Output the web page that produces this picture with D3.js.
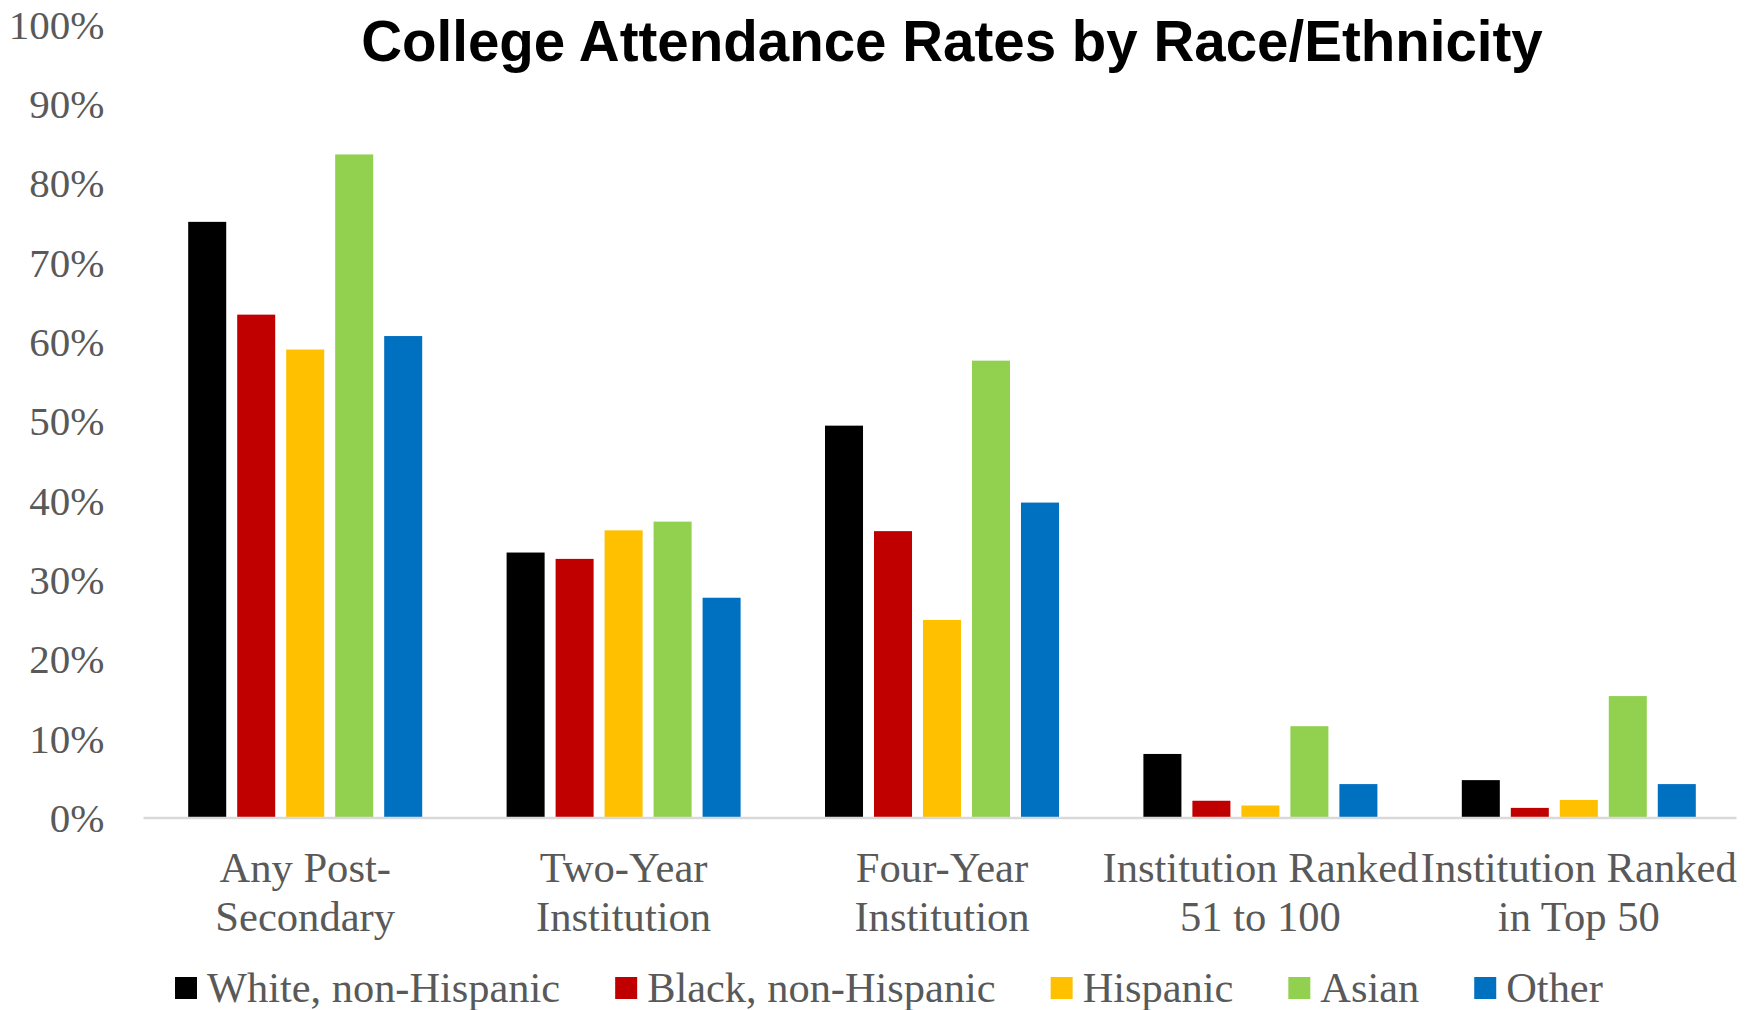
<!DOCTYPE html>
<html>
<head>
<meta charset="utf-8">
<script src="https://cdn.jsdelivr.net/npm/d3@7"></script>
<style>
  html, body { margin: 0; padding: 0; background: #fff; }
  svg { display: block; }
</style>
</head>
<body>
<svg id="chart" width="1758" height="1010"></svg>
<script>
const title = "College Attendance Rates by Race/Ethnicity";
const categories = [
  ["Any Post-", "Secondary"],
  ["Two-Year", "Institution"],
  ["Four-Year", "Institution"],
  ["Institution Ranked", "51 to 100"],
  ["Institution Ranked", "in Top 50"]
];
const seriesNames = ["White, non-Hispanic", "Black, non-Hispanic", "Hispanic", "Asian", "Other"];
const seriesColors = ["#000000", "#C00000", "#FFC000", "#92D050", "#0070C0"];
const white    = [0.751, 0.334, 0.494, 0.080, 0.047];
const black    = [0.634, 0.326, 0.361, 0.021, 0.012];
const hispanic = [0.590, 0.362, 0.249, 0.015, 0.022];
const asian    = [0.836, 0.373, 0.576, 0.115, 0.153];
const other    = [0.607, 0.277, 0.397, 0.042, 0.042];
const seriesValues = [white, black, hispanic, asian, other];
const yTicks = [0, 0.1, 0.2, 0.3, 0.4, 0.5, 0.6, 0.7, 0.8, 0.9, 1.0];

const svg = d3.select("#chart");
const plot = { left: 143.5, right: 1736.5, top: 24.4, bottom: 817.4 };
const serif = "'Liberation Serif', 'Times New Roman', serif";
const textGray = "#595959";

const x0 = d3.scaleBand().domain(d3.range(categories.length)).range([plot.left + 2.5, plot.right + 1.5]).paddingInner(0).paddingOuter(0);
const groupW = 234;
const x1 = d3.scaleBand().domain(d3.range(seriesNames.length)).range([0, groupW]).paddingInner(0.224).paddingOuter(0);
const y = d3.scaleLinear().domain([0, 1]).range([plot.bottom, plot.top]);

// title
svg.append("text")
  .attr("x", 952).attr("y", 61)
  .attr("text-anchor", "middle")
  .attr("font-family", "'Liberation Sans', Arial, sans-serif")
  .attr("font-weight", "bold")
  .attr("font-size", 56.5)
  .attr("fill", "#000")
  .text(title);

// y axis (labels only)
const yAxis = d3.axisLeft(y).tickValues(yTicks).tickFormat(d3.format(".0%")).tickSize(0).tickPadding(0);
const yg = svg.append("g").attr("transform", `translate(104.5,0)`).call(yAxis);
yg.select(".domain").remove();
yg.selectAll("text")
  .attr("font-family", serif).attr("font-size", 41).attr("fill", textGray).attr("dy", "0.34em");

// bars
const groups = svg.append("g").selectAll("g").data(categories).join("g")
  .attr("transform", (d, i) => `translate(${x0(i) + (x0.bandwidth() - groupW) / 2},0)`);
groups.selectAll("rect")
  .data((d, i) => seriesValues.map((s, j) => ({ j, v: s[i] })))
  .join("rect")
  .attr("x", d => x1(d.j))
  .attr("width", x1.bandwidth())
  .attr("y", d => y(d.v))
  .attr("height", d => y(0) - y(d.v))
  .attr("fill", d => seriesColors[d.j]);

// baseline
svg.append("line")
  .attr("x1", plot.left).attr("x2", plot.right)
  .attr("y1", y(0) + 0.5).attr("y2", y(0) + 0.5)
  .attr("stroke", "#D9D9D9").attr("stroke-width", 2.5);

// x labels
const xl = svg.append("g");
categories.forEach((lines, i) => {
  const cx = x0(i) + x0.bandwidth() / 2;
  lines.forEach((t, k) => {
    xl.append("text")
      .attr("x", cx).attr("y", 868 + k * 49)
      .attr("dy", "0.34em")
      .attr("text-anchor", "middle")
      .attr("font-family", serif).attr("font-size", 42.6).attr("fill", textGray)
      .text(t);
  });
});

// legend
const lg = svg.append("g");
let lx = 175;
const ly = 988;
seriesNames.forEach((name, j) => {
  lg.append("rect").attr("x", lx).attr("y", ly - 11).attr("width", 22).attr("height", 22).attr("fill", seriesColors[j]);
  const t = lg.append("text")
    .attr("x", lx + 32).attr("y", ly).attr("dy", "0.34em")
    .attr("font-family", serif).attr("font-size", 42.4).attr("fill", textGray)
    .text(name);
  lx += 32 + t.node().getComputedTextLength() + 55;
});
</script>
</body>
</html>
